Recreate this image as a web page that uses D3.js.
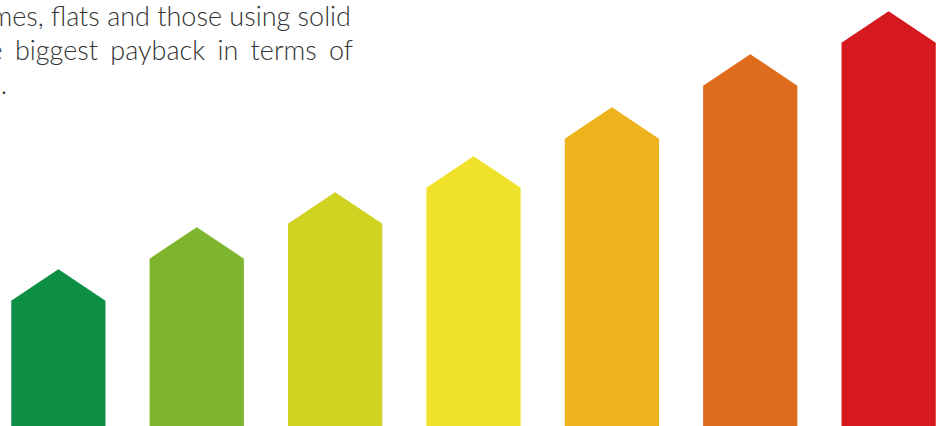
<!DOCTYPE html>
<html>
<head>
<meta charset="utf-8">
<script src="https://cdn.jsdelivr.net/npm/d3@7"></script>
<style>
  html, body { margin: 0; padding: 0; background: #fff; overflow: hidden; }
  svg { display: block; }
</style>
</head>
<body>
<svg id="chart"></svg>
<script>
// Chart size
const width = 951;
const height = 426;

// Data
const ratings = ['A', 'B', 'C', 'D', 'E', 'F', 'G'];
const values = [156, 198, 233, 269, 318, 371, 414];
const colors = ['#0d8f45', '#7db52f', '#d0d322', '#f0e12b', '#eeb31c', '#df6c1d', '#d6191e'];
const textLines = [
    'homes, flats and those using solid',
    'the biggest payback in terms of',
    'savings.'
];

const headDrop = 31; // height of the arrow point

const svg = d3.select('#chart')
    .attr('width', width)
    .attr('height', height);

// Scales
const x = d3.scaleBand()
    .domain(ratings)
    .range([12, 935])
    .paddingInner(0.33)
    .paddingOuter(0);

const y = d3.scaleLinear()
    .domain([0, 426])
    .range([height, 0]);

// Arrow shaped bars
function arrowPath(d, i) {
    const x0 = x(ratings[i]);
    const w = x.bandwidth();
    const top = y(d);
    const bottom = y(0) + 5;
    return `M${x0},${bottom} L${x0},${top + headDrop} L${x0 + w / 2},${top} ` +
        `L${x0 + w},${top + headDrop} L${x0 + w},${bottom} Z`;
}

svg.selectAll('.arrow')
    .data(values)
    .enter().append('path')
    .attr('class', 'arrow')
    .attr('d', arrowPath)
    .attr('fill', (d, i) => colors[i])
    .attr('stroke', (d, i) => colors[i])
    .attr('stroke-width', 1.5)
    .attr('stroke-linejoin', 'round');

// Text block (cut at the left edge, like the source)
const lineEnds = [351, 353, 7];
const wordSpacing = [0, 5, 0];

svg.selectAll('.copy')
    .data(textLines)
    .enter().append('text')
    .attr('class', 'copy')
    .attr('x', (d, i) => lineEnds[i])
    .attr('y', (d, i) => 26 + i * 34)
    .attr('text-anchor', 'end')
    .style('font-family', 'Lato, "Open Sans", sans-serif')
    .style('font-weight', 300)
    .style('font-size', '27px')
    .style('word-spacing', (d, i) => wordSpacing[i] + 'px')
    .style('fill', '#333')
    .text(d => d);
</script>
</body>
</html>
